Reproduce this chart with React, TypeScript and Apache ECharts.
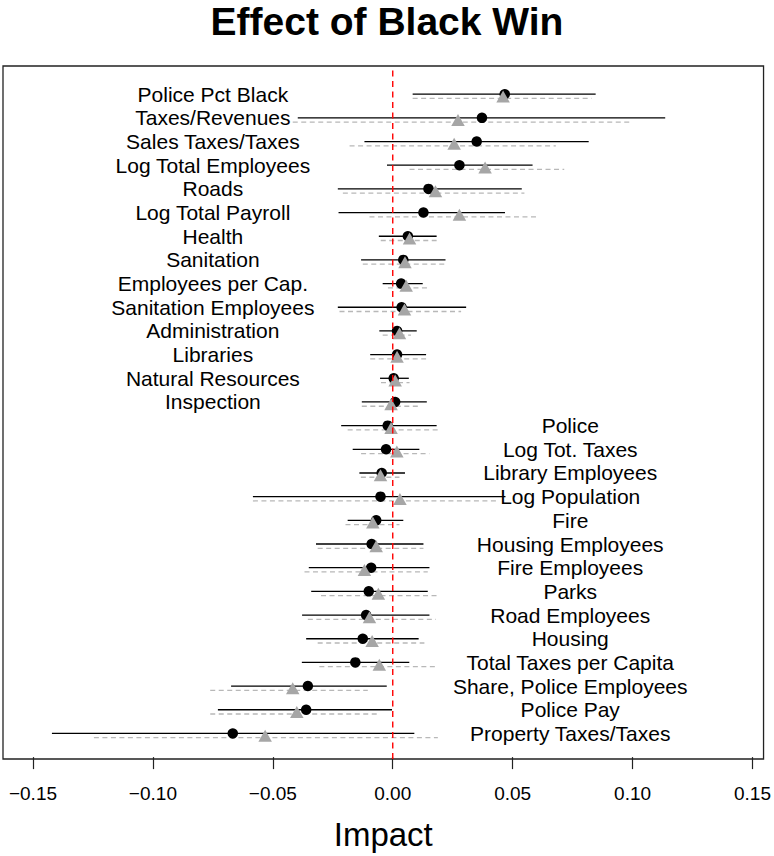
import React, { useEffect, useRef } from "react";
import * as echarts from "echarts";

const categories = [
  "Police Pct Black", "Taxes/Revenues", "Sales Taxes/Taxes", "Log Total Employees", "Roads",
  "Log Total Payroll", "Health", "Sanitation", "Employees per Cap.", "Sanitation Employees",
  "Administration", "Libraries", "Natural Resources", "Inspection", "Police",
  "Log Tot. Taxes", "Library Employees", "Log Population", "Fire", "Housing Employees",
  "Fire Employees", "Parks", "Road Employees", "Housing", "Total Taxes per Capita",
  "Share, Police Employees", "Police Pay", "Property Taxes/Taxes",
];

const blackEst = [0.0467, 0.0372, 0.035, 0.0278, 0.0149, 0.0128, 0.0063, 0.0044, 0.0035, 0.0037, 0.0018, 0.0018, 0.0004, 0.001, -0.0021, -0.0028, -0.0046, -0.0051, -0.0069, -0.0088, -0.009, -0.01, -0.0111, -0.0125, -0.0156, -0.0354, -0.0361, -0.0667];
const blackLo = [0.0083, -0.0396, -0.0118, -0.0024, -0.0229, -0.0226, -0.0058, -0.0132, -0.0042, -0.0229, -0.0056, -0.0094, -0.0053, -0.0129, -0.0215, -0.0167, -0.0139, -0.0583, -0.0188, -0.032, -0.035, -0.034, -0.0378, -0.0361, -0.0379, -0.0674, -0.0729, -0.1421];
const blackHi = [0.0846, 0.1136, 0.0817, 0.0583, 0.0538, 0.0468, 0.0183, 0.022, 0.0125, 0.0306, 0.01, 0.0139, 0.0067, 0.0142, 0.0183, 0.0111, 0.0051, 0.047, 0.0044, 0.0128, 0.0153, 0.0146, 0.0153, 0.0108, 0.0069, -0.0025, -0.0003, 0.009];
const grayEst = [0.046, 0.0272, 0.0256, 0.0385, 0.0178, 0.0278, 0.007, 0.0051, 0.0056, 0.0049, 0.0028, 0.0018, 0.001, -0.0007, -0.0007, 0.0017, -0.0051, 0.003, -0.0083, -0.0069, -0.0118, -0.006, -0.0097, -0.0086, -0.0056, -0.0417, -0.04, -0.0532];
const grayLo = [0.0083, -0.0417, -0.018, 0.007, -0.0208, -0.0097, -0.005, -0.0125, -0.002, -0.0222, -0.0042, -0.0094, -0.0049, -0.0129, -0.0188, -0.0132, -0.0133, -0.0583, -0.0197, -0.0313, -0.0368, -0.0299, -0.0354, -0.0313, -0.0306, -0.0761, -0.0761, -0.1246];
const grayHi = [0.0829, 0.0992, 0.068, 0.0715, 0.0549, 0.0611, 0.0183, 0.0215, 0.0146, 0.0285, 0.0076, 0.0139, 0.007, 0.0111, 0.0197, 0.0153, 0.0028, 0.044, 0.0028, 0.0128, 0.0146, 0.0185, 0.018, 0.0132, 0.0188, -0.0104, -0.0053, 0.0188];

const xTicks = [-0.15, -0.1, -0.05, 0, 0.05, 0.1, 0.15];

const N = categories.length;
const GRAY_OFFSET = 0.18;
const LEFT_LABEL_X = -0.075;
const RIGHT_LABEL_X = 0.074;
const FONT = "'Liberation Sans', Arial, Helvetica, sans-serif";

export default function App() {
  const ref = useRef<HTMLDivElement>(null);
  useEffect(() => {
    if (!ref.current) return;
    const chart = echarts.init(ref.current, null, { renderer: "svg" });
    const rowY = (i: number) => N - i;

    const blackSeg = categories.map((_, i) => [blackLo[i], blackHi[i], rowY(i)]);
    const graySeg = categories.map((_, i) => [grayLo[i], grayHi[i], rowY(i) - GRAY_OFFSET]);
    const blackPts = categories.map((_, i) => [blackEst[i], rowY(i)]);
    const grayPts = categories.map((_, i) => [grayEst[i], rowY(i) - GRAY_OFFSET]);
    const labelData = categories.map((c, i) => [i < 14 ? LEFT_LABEL_X : RIGHT_LABEL_X, rowY(i), c]);

    const segRender = (stroke: string, width: number, dash: number[] | null) =>
      (params: any, api: any) => {
        const a = api.coord([api.value(0), api.value(2)]);
        const b = api.coord([api.value(1), api.value(2)]);
        return {
          type: "line",
          shape: { x1: a[0], y1: a[1], x2: b[0], y2: b[1] },
          style: { stroke, lineWidth: width, lineDash: dash || undefined },
        };
      };

    const yMin = 1 - 1.08;
    const yMax = N + 1.19;

    chart.setOption({
      animation: false,
      backgroundColor: "#ffffff",
      title: {
        text: "Effect of Black Win",
        left: "center",
        top: 2,
        padding: 0,
        textStyle: { fontFamily: FONT, fontSize: 39, fontWeight: "bold", color: "#000" },
      },
      grid: {
        left: 3,
        right: 7,
        top: 66,
        bottom: 92.6,
        show: true,
        borderColor: "#222",
        borderWidth: 1.3,
        backgroundColor: "transparent",
      },
      xAxis: {
        type: "value",
        min: -0.1625,
        max: 0.1546,
        splitLine: { show: false },
        axisLine: { show: false },
        axisTick: {
          show: true,
          length: 12,
          customValues: xTicks,
          lineStyle: { color: "#222", width: 1.2 },
        },
        axisLabel: {
          customValues: xTicks,
          margin: 25,
          fontFamily: FONT,
          fontSize: 19,
          color: "#000",
          formatter: (v: number) => v.toFixed(2).replace("-", "\u2212"),
        },
        name: "Impact",
        nameLocation: "middle",
        nameGap: 59,
        nameTextStyle: { fontFamily: FONT, fontSize: 33, color: "#000" },
      },
      yAxis: {
        type: "value",
        min: yMin,
        max: yMax,
        show: false,
      },
      series: [
        {
          type: "custom",
          data: blackSeg,
          encode: { x: [0, 1], y: 2 },
          renderItem: segRender("#000", 1.3, null),
          silent: true,
          z: 1,
        },
        {
          type: "custom",
          data: graySeg,
          encode: { x: [0, 1], y: 2 },
          renderItem: segRender("#b8b8b8", 1.3, [5, 3.5]),
          silent: true,
          z: 1,
        },
        {
          type: "scatter",
          data: blackPts,
          symbol: "circle",
          symbolSize: 10.5,
          itemStyle: { color: "#000", opacity: 1 },
          silent: true,
          z: 2,
        },
        {
          type: "scatter",
          data: grayPts,
          symbol: "triangle",
          symbolSize: [13.5, 12],
          symbolOffset: [0, -2],
          itemStyle: { color: "#a6a6a6", opacity: 1 },
          silent: true,
          z: 3,
        },
        {
          type: "custom",
          data: [[0, yMin, yMax]],
          encode: { x: 0, y: [1, 2] },
          renderItem: (params: any, api: any) => {
            const a = api.coord([api.value(0), api.value(1)]);
            const b = api.coord([api.value(0), api.value(2)]);
            return {
              type: "line",
              shape: { x1: a[0], y1: a[1], x2: b[0], y2: b[1] },
              style: { stroke: "#ff0000", lineWidth: 1.4, lineDash: [6, 4.5] },
            };
          },
          silent: true,
          z: 4,
        },
        {
          type: "custom",
          data: labelData,
          encode: { x: 0, y: 1 },
          renderItem: (params: any, api: any) => {
            const p = api.coord([api.value(0), api.value(1)]);
            return {
              type: "text",
              x: p[0],
              y: p[1],
              style: {
                text: labelData[params.dataIndex][2] as string,
                fontFamily: FONT,
                fontSize: 21,
                fill: "#000",
                align: "center",
                verticalAlign: "middle",
              },
            };
          },
          silent: true,
          z: 5,
        },
      ],
    });
    return () => chart.dispose();
  }, []);

  return (
    <div
      ref={ref}
      style={{ position: "absolute", left: 0, top: 0, width: 774, height: 856 }}
    />
  );
}
